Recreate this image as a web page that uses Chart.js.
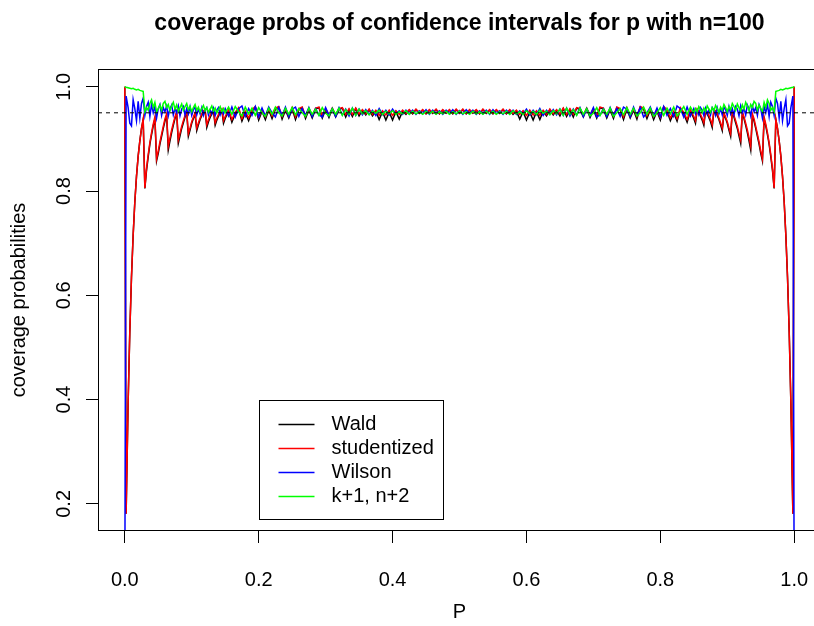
<!DOCTYPE html>
<html>
<head>
<meta charset="utf-8">
<script src="https://cdn.jsdelivr.net/npm/chart.js@4.4.1/dist/chart.umd.min.js"></script>
<style>
  html, body { margin: 0; padding: 0; background: #fff; overflow: hidden; }
  #wrap { width: 830px; height: 626px; }
</style>
</head>
<body>
<div id="wrap"><canvas id="chart" width="830" height="626"></canvas></div>
<script>
// p grid (finer near the edges, where the sawtooth is wide)
const pValues = [
  0, .002, .005, .0075, .01, .0125, .015, .0175, .02, .0225, .025, .0275,
  .03, .0325, .035, .0375, .04, .0425, .045, .0475, .05, .0525, .055, .0575, .06, .0625,
  .065, .0675, .07, .0725, .075, .0775, .08, .0825, .085, .0875, .09, .0925,
  .095, .0975, .1, .1025, .105, .1075, .11, .1125, .115, .1175, .12,
  .1225, .125, .1275, .13, .1325, .135, .1375, .14, .1425, .145, .1475, .15,
  .155, .16, .165, .17, .175, .18, .185, .19, .195, .2, .205, .21, .215, .22, .225, .23, .235, .24, .245, .25,
  .255, .26, .265, .27, .275, .28, .285, .29, .295, .3, .305, .31, .315, .32, .325, .33, .335, .34, .345, .35,
  .355, .36, .365, .37, .375, .38, .385, .39, .395, .4, .405, .41, .415, .42,
  .425, .43, .435, .44, .445, .45, .455, .46, .465, .47, .475, .48, .485, .49, .495, .5,
  .505, .51, .515, .52, .525, .53, .535, .54, .545, .55, .555, .56, .565, .57, .575,
  .58, .585, .59, .595, .6, .605, .61, .615, .62, .625, .63, .635, .64, .645,
  .65, .655, .66, .665, .67, .675, .68, .685, .69, .695, .7, .705, .71, .715, .72, .725, .73, .735, .74, .745,
  .75, .755, .76, .765, .77, .775, .78, .785, .79, .795, .8, .805, .81, .815, .82, .825, .83, .835, .84, .845,
  .85, .8525, .855, .8575, .86, .8625, .865, .8675, .87, .8725, .875, .8775, .88, .8825, .885, .8875,
  .89, .8925, .895, .8975, .9, .9025, .905, .9075, .91, .9125, .915, .9175, .92, .9225, .925, .9275,
  .93, .9325, .935, .9375, .94, .9425, .945, .9475, .95, .9525, .955, .9575, .96, .9625, .965, .9675,
  .97, .9725, .975, .9775, .98, .9825, .985, .9875, .99, .9925, .995, .998, 1
];

const wald = [
  1.0, .181, .394, .53, .634, .715, .779, .828, .867, .896, .92, .937,
  .805, .84, .866, .89, .908, .925, .938,
  .858, .872, .89, .905, .92, .934, .945,
  .879, .896, .912, .926, .939, .95,
  .892, .906, .92, .931, .942, .951,
  .905, .917, .93, .939, .948,
  .916, .927, .937, .945, .952, .954,
  .922, .933, .941, .948, .953,
  .926, .936, .944, .95, .955,
  .93, .939,
  .954, .932, .948, .958, .934, .95, .935, .953, .961, .936, .953, .937, .956, .939, .957, .961, .938, .955, .94, .958,
  .937, .956, .96, .939, .956, .94, .957, .96, .94, .956, .941, .958, .942, .956, .959, .942, .956, .943, .958, .944,
  .955, .946, .956, .944, .953, .937, .952, .936, .951, .936, .952, .938, .953, .947,
  .955, .948, .956, .949, .955, .948, .955, .949, .956, .948, .955, .949, .955, .948, .956, .949,
  .956, .948, .955, .949, .955, .948, .956, .949, .955, .948, .955, .949, .956, .948, .955,
  .947, .953, .938, .952, .936, .951, .936, .952, .937, .953, .944, .956, .946, .955,
  .944, .958, .943, .956, .942, .959, .956, .942, .958, .941, .956, .94, .96, .957, .94, .956, .939, .96, .956, .937,
  .958, .94, .955, .938, .961, .957, .939, .956, .937, .953, .936, .961, .953, .935, .95, .934, .958, .948, .932, .954,
  .939, .93,
  .955, .95, .944, .936, .926,
  .953, .948, .941, .933, .922,
  .954, .952, .945, .937, .927, .916,
  .948, .939, .93, .917, .905,
  .951, .942, .931, .92, .906, .892,
  .95, .939, .926, .912, .896, .879,
  .945, .934, .92, .905, .89, .872, .858,
  .938, .925, .908, .89, .866, .84, .805,
  .937, .92, .896, .867, .828, .779, .715, .634, .53, .394, .181, 1.0
];

const studentized = [
  1.0, .181, .394, .53, .634, .715, .779, .828, .867, .896, .92, .938,
  .806, .843, .87, .893, .912, .928, .942,
  .862, .877, .894, .909, .924, .938, .948,
  .886, .902, .917, .93, .942, .952,
  .898, .911, .924, .935, .945, .953,
  .91, .921, .933, .942, .95,
  .921, .931, .94, .948, .954, .956,
  .927, .937, .945, .951, .955,
  .931, .94, .947, .952, .957,
  .935, .943,
  .956, .937, .951, .96, .939, .953, .94, .956, .962, .941, .956, .942, .958, .944, .959, .962, .943, .957, .944, .96,
  .942, .958, .961, .944, .958, .945, .959, .961, .945, .958, .946, .959, .946, .958, .96, .947, .958, .947, .959, .948,
  .956, .948, .957, .947, .955, .945, .954, .946, .955, .945, .954, .947, .955, .949,
  .956, .949, .957, .95, .956, .949, .956, .95, .957, .949, .956, .95, .956, .949, .957, .95,
  .957, .949, .956, .95, .956, .949, .957, .95, .956, .949, .956, .95, .957, .949, .956,
  .949, .955, .947, .954, .945, .955, .946, .954, .945, .955, .947, .957, .948, .956,
  .948, .959, .947, .958, .947, .96, .958, .946, .959, .946, .958, .945, .961, .959, .945, .958, .944, .961, .958, .942,
  .96, .944, .957, .943, .962, .959, .944, .958, .942, .956, .941, .962, .956, .94, .953, .939, .96, .951, .937, .956,
  .943, .935,
  .957, .952, .947, .94, .931,
  .955, .951, .945, .937, .927,
  .956, .954, .948, .94, .931, .921,
  .95, .942, .933, .921, .91,
  .953, .945, .935, .924, .911, .898,
  .952, .942, .93, .917, .902, .886,
  .948, .938, .924, .909, .894, .877, .862,
  .942, .928, .912, .893, .87, .843, .806,
  .938, .92, .896, .867, .828, .779, .715, .634, .53, .394, .181, 1.0
];

const wilson = [
  0, .982, .96, .93, .925, .975, .958, .935, .972, .94, .968, .978,
  .945, .962, .97, .943, .966, .95, .962,
  .94, .958, .966, .945, .96, .952, .963,
  .944, .958, .965, .946, .958, .95,
  .963, .944, .957, .962, .946, .958,
  .948, .962, .945, .956, .961,
  .946, .957, .948, .96, .945, .955,
  .96, .946, .956, .948, .959,
  .945, .955, .96, .946, .955,
  .948, .958,
  .944, .961, .942, .958, .963, .943, .958, .945, .962, .942, .959, .944, .961, .95, .942, .96, .945, .961, .943, .957,
  .961, .943, .958, .945, .96, .943, .958, .946, .942, .96, .945, .958, .943, .96, .946, .957, .944, .959, .945, .957,
  .946, .956, .947, .955, .945, .958, .947, .955, .946, .957, .948, .954, .947, .955,
  .948, .955, .947, .954, .948, .956, .947, .955, .948, .954, .947, .955, .948, .956, .947, .954,
  .947, .956, .948, .955, .947, .954, .948, .955, .947, .956, .948, .954, .947, .955, .948,
  .955, .947, .954, .948, .957, .946, .955, .947, .958, .945, .955, .947, .956, .946,
  .957, .945, .959, .944, .957, .946, .96, .943, .958, .945, .96, .942, .946, .958, .943, .96, .945, .958, .943, .961,
  .957, .943, .961, .945, .96, .942, .95, .961, .944, .959, .942, .962, .945, .958, .943, .963, .958, .942, .961, .944,
  .958, .948,
  .955, .946, .96, .955, .945,
  .959, .948, .956, .946, .96,
  .955, .945, .96, .948, .957, .946,
  .961, .956, .945, .962, .948,
  .958, .946, .962, .957, .944, .963,
  .95, .958, .946, .965, .958, .944,
  .963, .952, .96, .945, .966, .958, .94,
  .962, .95, .966, .943, .97, .962, .945,
  .978, .968, .94, .972, .935, .958, .975, .925, .93, .96, .982, 0
];

const plusFour = [
  1.0, .999, .998, .997, .996, .997, .995, .994, .995, .993, .992, .991,
  .952, .96, .955, .968, .975, .96, .97,
  .952, .958, .965, .955, .968, .972, .96,
  .966, .954, .963, .97, .957, .965,
  .953, .96, .967, .955, .962, .968,
  .956, .962, .952, .96, .966,
  .955, .961, .951, .958, .964, .954,
  .96, .951, .957, .963, .953,
  .959, .95, .956, .962, .952,
  .958, .95,
  .961, .947, .962, .952, .944, .961, .948, .959, .945, .96, .95, .943, .959, .947, .961, .95, .944, .959, .947, .96,
  .946, .958, .95, .943, .959, .947, .957, .945, .96, .949, .944, .958, .947, .959, .945, .956, .947, .959, .945, .957,
  .948, .954, .946, .953, .949, .955, .947, .953, .948, .954, .947, .952, .948, .954,
  .947, .953, .948, .952, .947, .953, .948, .953, .947, .952, .948, .953, .947, .952, .948, .953,
  .948, .952, .947, .953, .948, .952, .947, .953, .948, .953, .947, .952, .948, .953, .947,
  .954, .948, .952, .947, .954, .948, .953, .947, .955, .949, .953, .946, .954, .948,
  .957, .945, .959, .947, .956, .945, .959, .947, .958, .944, .949, .96, .945, .957, .947, .959, .943, .95, .958, .946,
  .96, .947, .959, .944, .95, .961, .947, .959, .943, .95, .96, .945, .959, .948, .961, .944, .952, .962, .947, .961,
  .95, .958,
  .952, .962, .956, .95, .959,
  .953, .963, .957, .951, .96,
  .954, .964, .958, .951, .961, .955,
  .966, .96, .952, .962, .956,
  .968, .962, .955, .967, .96, .953,
  .965, .957, .97, .963, .954, .966,
  .96, .972, .968, .955, .965, .958, .952,
  .97, .96, .975, .968, .955, .96, .952,
  .991, .992, .993, .995, .994, .995, .997, .996, .997, .998, .999, 1.0
];

const seriesNames = ['Wald', 'studentized', 'Wilson', 'k+1, n+2'];
const seriesColors = ['#000000', '#ff0000', '#0000ff', '#00ff00'];
const xTicks = [0, 0.2, 0.4, 0.6, 0.8, 1.0];
const yTicks = [0.2, 0.4, 0.6, 0.8, 1.0];
const nominalLevel = 0.95;

[wald, studentized, wilson, plusFour].forEach((s, i) => {
  if (s.length !== pValues.length) throw new Error(seriesNames[i] + ' has ' + s.length + ' values, expected ' + pValues.length);
});

const FONT = '"Liberation Sans", Arial, Helvetica, sans-serif';

const toPoints = vals => pValues.map((p, i) => ({ x: p, y: vals[i] }));

const datasets = [wald, studentized, wilson, plusFour].map((vals, i) => ({
  label: seriesNames[i],
  data: toPoints(vals),
  borderColor: seriesColors[i],
  borderWidth: 1.5,
  pointRadius: 0,
  tension: 0,
  order: 4 - i
}));
datasets.push({
  label: 'nominal',
  data: [{ x: -0.04, y: nominalLevel }, { x: 1.04, y: nominalLevel }],
  borderColor: '#000',
  borderWidth: 1,
  borderDash: [4, 4],
  pointRadius: 0,
  order: 0
});

// R-style frame, labels, title and legend
const rPlot = {
  id: 'rPlot',
  afterDraw(chart) {
    const { ctx, chartArea: a, scales } = chart;
    ctx.save();
    ctx.strokeStyle = '#000';
    ctx.lineWidth = 1;
    ctx.strokeRect(a.left + 0.5, a.top + 0.5, a.right - a.left - 1, a.bottom - a.top - 1);

    ctx.fillStyle = '#000';
    ctx.font = '20px ' + FONT;
    ctx.textAlign = 'center';
    ctx.textBaseline = 'middle';
    xTicks.forEach(v => ctx.fillText(v.toFixed(1), scales.x.getPixelForValue(v), 580));
    yTicks.forEach(v => {
      ctx.save();
      ctx.translate(64, scales.y.getPixelForValue(v));
      ctx.rotate(-Math.PI / 2);
      ctx.fillText(v.toFixed(1), 0, 0);
      ctx.restore();
    });

    const cx = (a.left + a.right) / 2;
    ctx.fillText('P', cx, 612);
    ctx.save();
    ctx.translate(19, (a.top + a.bottom) / 2);
    ctx.rotate(-Math.PI / 2);
    ctx.fillText('coverage probabilities', 0, 0);
    ctx.restore();

    ctx.font = 'bold 23px ' + FONT;
    ctx.fillText('coverage probs of confidence intervals for p with n=100', cx, 24);

    // legend anchored at (0.2, 0.4) in data units
    const lx = Math.round(scales.x.getPixelForValue(0.2)) + 0.5;
    const ly = Math.round(scales.y.getPixelForValue(0.4)) + 0.5;
    ctx.fillStyle = '#fff';
    ctx.fillRect(lx, ly, 184, 119);
    ctx.strokeRect(lx, ly, 184, 119);
    ctx.font = '20px ' + FONT;
    ctx.textAlign = 'left';
    seriesNames.forEach((name, i) => {
      const ry = ly + 24 + i * 24;
      ctx.strokeStyle = seriesColors[i];
      ctx.lineWidth = 1.5;
      ctx.beginPath();
      ctx.moveTo(lx + 19, ry);
      ctx.lineTo(lx + 55, ry);
      ctx.stroke();
      ctx.fillStyle = '#000';
      ctx.fillText(name, lx + 72, ry);
    });
    ctx.restore();
  }
};

const tickGrid = { display: true, drawOnChartArea: false, drawTicks: true, tickLength: 12, color: '#000', lineWidth: 1 };

new Chart(document.getElementById('chart').getContext('2d'), {
  type: 'line',
  data: { datasets },
  options: {
    responsive: false,
    animation: false,
    devicePixelRatio: 1,
    layout: { padding: { left: 0, top: 69, right: 9, bottom: 0 } },
    plugins: { legend: { display: false }, tooltip: { enabled: false }, title: { display: false } },
    scales: {
      x: {
        type: 'linear', min: -0.04, max: 1.04,
        afterBuildTicks: s => { s.ticks = xTicks.map(v => ({ value: v })); },
        afterFit: s => { s.height = 95; },
        ticks: { display: false },
        grid: tickGrid,
        border: { display: false }
      },
      y: {
        type: 'linear', min: 0.148, max: 1.034,
        afterBuildTicks: s => { s.ticks = yTicks.map(v => ({ value: v })); },
        afterFit: s => { s.width = 98; },
        ticks: { display: false },
        grid: tickGrid,
        border: { display: false }
      }
    }
  },
  plugins: [rPlot]
});
</script>
</body>
</html>
